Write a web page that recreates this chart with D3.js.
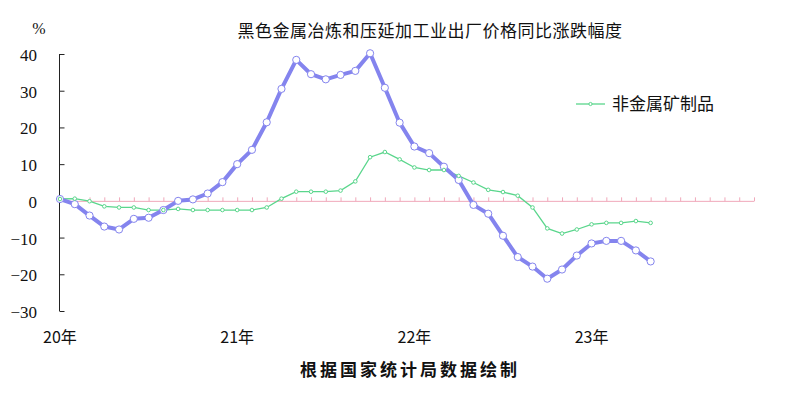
<!DOCTYPE html>
<html>
<head>
<meta charset="utf-8">
<script src="https://cdn.jsdelivr.net/npm/d3@7"></script>
<style>
  body { margin: 0; background: #fff; }
  svg { display: block; }
  .serif { font-family: "Liberation Serif", "Times New Roman", serif; }
  .cjk { font-family: "Noto Sans CJK SC", sans-serif; }
</style>
</head>
<body>
<svg width="788" height="394"></svg>
<script>
const width = 788;
const height = 394;
const svg = d3.select("svg");

// categories: Jan 2020 .. Dec 2023
const months = [
  "2020-01","2020-02","2020-03","2020-04","2020-05","2020-06","2020-07","2020-08","2020-09","2020-10","2020-11","2020-12",
  "2021-01","2021-02","2021-03","2021-04","2021-05","2021-06","2021-07","2021-08","2021-09","2021-10","2021-11","2021-12",
  "2022-01","2022-02","2022-03","2022-04","2022-05","2022-06","2022-07","2022-08","2022-09","2022-10","2022-11","2022-12",
  "2023-01","2023-02","2023-03","2023-04","2023-05","2023-06","2023-07","2023-08","2023-09","2023-10","2023-11","2023-12"
];
const yearMonths = ["2020-01", "2021-01", "2022-01", "2023-01"];
const yearLabels = ["20年", "21年", "22年", "23年"];
const yTicks = [-30, -20, -10, 0, 10, 20, 30, 40];

// 黑色金属冶炼和压延加工业 (YoY %)
const ferrous = [
  0.5, -0.9, -4.0, -7.0, -7.8, -4.9, -4.6, -2.5, 0.0, 0.4, 2.0, 5.1,
  10.0, 13.9, 21.4, 30.5, 38.4, 34.5, 33.1, 34.3, 35.4, 40.2, 30.8, 21.3,
  14.8, 13.0, 9.3, 5.7, -1.1, -3.5, -9.5, -15.3, -17.9, -21.2, -18.7, -14.9,
  -11.6, -10.9, -10.9, -13.5, -16.5
];
// 非金属矿制品 (YoY %)
const nonmetal = [
  0.5, 0.6, -0.1, -1.5, -1.8, -1.8, -2.5, -2.5, -2.2, -2.5, -2.5, -2.5,
  -2.5, -2.5, -1.8, 0.6, 2.5, 2.5, 2.5, 2.8, 5.3, 11.9, 13.3, 11.3,
  9.1, 8.4, 8.4, 6.8, 5.0, 3.0, 2.4, 1.4, -1.8, -7.5, -8.9, -7.8,
  -6.4, -6.0, -6.0, -5.5, -6.0
];

const x = d3.scalePoint().domain(months).range([60, 754]);
const y = d3.scaleLinear().domain([-30, 40]).range([311, 54]);

svg.append("rect").attr("width", width).attr("height", height).attr("fill", "#fff");

// title
svg.append("text")
  .attr("class", "cjk")
  .attr("x", 430).attr("y", 37)
  .attr("text-anchor", "middle")
  .attr("font-size", 17)
  .attr("letter-spacing", 0.5)
  .attr("fill", "#111")
  .text("黑色金属冶炼和压延加工业出厂价格同比涨跌幅度");

// y axis
const yAxis = svg.append("g")
  .attr("transform", "translate(59.5,0)")
  .call(d3.axisRight(y).tickValues(yTicks).tickSize(5).tickFormat(""));
yAxis.select(".domain").attr("d", `M0,${y(40)}V${y(-30)}`).attr("stroke", "#222");
yAxis.selectAll(".tick line").attr("stroke", "#222");

svg.append("g")
  .selectAll("text")
  .data(yTicks)
  .join("text")
  .attr("class", "serif")
  .attr("x", 37)
  .attr("y", d => y(d) + 7)
  .attr("text-anchor", "end")
  .attr("font-size", 17)
  .attr("fill", "#111")
  .text(d => d < 0 ? "\u2212" + Math.abs(d) : d);

svg.append("text")
  .attr("class", "serif")
  .attr("x", 39).attr("y", 34)
  .attr("text-anchor", "middle")
  .attr("font-size", 16)
  .attr("fill", "#111")
  .text("%");

// zero line with month ticks
const xAxis = svg.append("g")
  .attr("transform", `translate(0,${y(0) + 0.5})`)
  .call(d3.axisTop(x).tickSize(4).tickFormat(""));
xAxis.select(".domain").attr("d", `M${x(months[0])},0H${x(months[months.length - 1])}`)
  .attr("stroke", "#f0a8ba");
xAxis.selectAll(".tick line").attr("stroke", "#f0a8ba");
xAxis.select(".tick").remove();

// year labels
svg.append("g")
  .selectAll("text")
  .data(yearMonths)
  .join("text")
  .attr("class", "cjk")
  .attr("x", d => x(d))
  .attr("y", 343)
  .attr("text-anchor", "middle")
  .attr("font-size", 16)
  .attr("fill", "#111")
  .text((d, i) => yearLabels[i]);

// series
const line = d3.line().x((d, i) => x(months[i])).y(d => y(d));

svg.append("path")
  .datum(nonmetal)
  .attr("fill", "none")
  .attr("stroke", "#5ad68c")
  .attr("stroke-width", 1.3)
  .attr("d", line);

svg.append("path")
  .datum(ferrous)
  .attr("fill", "none")
  .attr("stroke", "#8484ee")
  .attr("stroke-width", 4)
  .attr("stroke-linejoin", "round")
  .attr("d", line);

svg.append("g")
  .selectAll("circle")
  .data(ferrous)
  .join("circle")
  .attr("cx", (d, i) => x(months[i]))
  .attr("cy", d => y(d))
  .attr("r", 3.6)
  .attr("fill", "#fff")
  .attr("stroke", "#8484ee")
  .attr("stroke-width", 1);

svg.append("g")
  .selectAll("circle")
  .data(nonmetal)
  .join("circle")
  .attr("cx", (d, i) => x(months[i]))
  .attr("cy", d => y(d))
  .attr("r", 1.8)
  .attr("fill", "#fff")
  .attr("stroke", "#5ad68c")
  .attr("stroke-width", 1);

// legend
const legend = svg.append("g").attr("transform", "translate(576,104)");
legend.append("line").attr("x1", 0).attr("x2", 29).attr("y1", 0).attr("y2", 0)
  .attr("stroke", "#5ad68c").attr("stroke-width", 1.3);
legend.append("circle").attr("cx", 14.5).attr("cy", 0).attr("r", 1.6)
  .attr("fill", "#fff").attr("stroke", "#5ad68c");
legend.append("text").attr("class", "cjk").attr("x", 36).attr("y", 6)
  .attr("font-size", 17).attr("fill", "#111")
  .text("非金属矿制品");

// source note
svg.append("text")
  .attr("class", "cjk")
  .attr("x", 410).attr("y", 376)
  .attr("text-anchor", "middle")
  .attr("font-size", 17)
  .attr("font-weight", "bold")
  .attr("letter-spacing", 3)
  .attr("fill", "#111")
  .text("根据国家统计局数据绘制");
</script>
</body>
</html>
